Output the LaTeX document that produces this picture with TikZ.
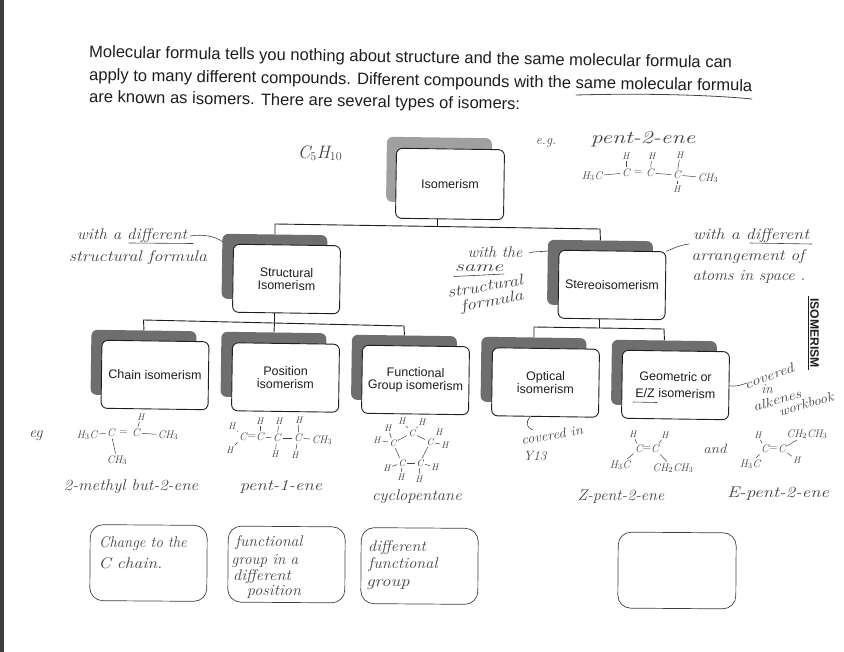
\documentclass[tikz,border=0pt]{standalone}
\usepackage{fontspec}
\newfontfamily\arialf{Liberation Sans}
\definecolor{ink}{HTML}{1E1E1E}
\definecolor{pen}{HTML}{444444}
\definecolor{shade}{HTML}{6E6E6E}
\definecolor{shadelt}{HTML}{A0A0A0}
\tikzset{
 box/.style={draw=ink,line width=0.9pt,rounded corners=6pt,fill=white,rotate=-0.8,minimum width=107pt,minimum height=68pt,inner sep=0pt,align=center,text=ink,font=\arialf\fontsize{12.5}{12.8}\selectfont},
 shadowbox/.style={fill=shade,rounded corners=6pt,rotate=-0.8,minimum width=105pt,minimum height=65pt,inner sep=0pt},
 handbox/.style={draw=ink!85,line width=0.7pt,rounded corners=13pt,minimum width=117pt,minimum height=76pt,inner sep=0pt,rotate=-0.4},
 bus/.style={draw=ink,line width=0.9pt},
 headline/.style={anchor=west,inner sep=0pt,rotate=-0.95,text=ink,font=\arialf\fontsize{16.55}{17}\selectfont},
 hand/.style={inner sep=0pt,text=pen,font=\itshape\fontsize{15.5}{16}\selectfont},
 handsm/.style={inner sep=0pt,text=pen,font=\itshape\fontsize{13.5}{14}\selectfont},
 atomn/.style={inner sep=1pt,text=pen,font=\itshape\fontsize{11}{12}\selectfont},
 atoms/.style={inner sep=1pt,text=pen,font=\itshape\fontsize{9.5}{10}\selectfont},
 eqs/.style={inner sep=0pt,text=pen,font=\fontsize{11}{12}\selectfont},
 bond/.style={draw=pen,line width=0.5pt,shorten >=0.5pt,shorten <=0.5pt},
 penline/.style={draw=pen,line width=0.6pt,line cap=round},
}
\begin{document}
\begin{tikzpicture}[x=1pt,y=-1pt]
\useasboundingbox (0,0) rectangle (844,652);
\fill[white] (0,0) rectangle (844,652);
\fill[ink!85] (0,0) rectangle (4,652);

% header
\node[headline] (h1) at (89,53) {Molecular formula tells you nothing about structure and the same molecular formula can};
\node[headline] (h2) at (89,76) {apply to many different compounds. Different compounds with the same molecular formula};
\node[headline] (h3) at (89,98) {are known as isomers. There are several types of isomers:};
\coordinate (ulA) at (576,95); \coordinate (ulB) at (752,99);
\draw[penline,line width=0.8pt] (ulA) .. controls (630,93.5) and (700,94) .. (ulB);

% shadows
\node[shadowbox,fill=shadelt] (isoS) at (439,170) {};
\node[shadowbox] (strS) at (274.5,267) {};
\node[shadowbox] (steS) at (600,273) {};
\node[shadowbox] (chaS) at (143.5,363) {};
\node[shadowbox] (posS) at (273.5,365) {};
\node[shadowbox] (funS) at (404,368) {};
\node[shadowbox] (optS) at (533.5,370) {};
\node[shadowbox] (geoS) at (664,373) {};

% connector junctions
\coordinate (busA) at (437,226.5);
\coordinate (busAL) at (275,224);
\coordinate (busAR) at (600,229);
\coordinate (busB) at (274.5,323);
\coordinate (busBL) at (143.5,320);
\coordinate (busBR) at (404,326);
\coordinate (busC) at (599,328);
\coordinate (busCL) at (534,327);
\coordinate (busCR) at (664,329);

\draw[bus] (strS.north) -- (busAL) -- (busAR) -- (steS.north);
\draw[bus] (chaS.north) -- (busBL) -- (busBR) -- (funS.north);
\draw[bus] (optS.north) -- (busCL) -- (busCR) -- (geoS.north);
\draw[bus] (posS.north) -- (busB);
\draw[bus] (busA) -- (isoS.south -| busA) ;
\draw[bus] (busB) -- (strS.south -| busB);
\draw[bus] (busC) -- (steS.south -| busC);

% boxes
\node[box,minimum width=108pt,minimum height=70pt] (iso) at (450,184) {Isomerism};
\node[box] (str) at (286.5,279) {Structural\\Isomerism};
\node[box] (ste) at (612,285) {Stereoisomerism};
\node[box] (cha) at (155,375) {Chain isomerism};
\node[box] (pos) at (285.5,377.5) {Position\\isomerism};
\node[box] (fun) at (415.5,380) {Functional\\Group isomerism};
\node[box] (opt) at (545.5,382.5) {Optical\\isomerism};
\node[box] (geo) at (675.5,385) {Geometric or\\[4pt]E/Z isomerism};

\coordinate (ezA) at (633,402); \coordinate (ezB) at (657,402.5);
\draw[penline] (ezA) -- (ezB);

\node[inner sep=0pt,rotate=-90,text=ink,font=\arialf\bfseries\fontsize{12.2}{13}\selectfont] (side) at (814.5,333) {ISOMERISM};
\coordinate (sdA) at (808.5,296); \coordinate (sdB) at (808.5,370);
\draw[ink,line width=0.8pt] (sdA) -- (sdB);

% annotations top
\node[hand,font=\itshape\fontsize{18}{18}\selectfont] (cf) at (320,153) {C$_5$H$_{10}$};
\node[handsm] (eg1) at (546,143) {e.g.};
\node[hand,font=\itshape\fontsize{18}{18}\selectfont,xscale=1.31] (p2e) at (643,139) {pent-2-ene};
\node[atomn] (a1) at (592,176) {H$_3$C};
\node[atomn] (a2) at (626,173) {C};
\node[eqs] (a2e) at (638,173) {=};
\node[atomn] (a3) at (650,173) {C};
\node[atomn] (a4) at (677,175) {C};
\node[atomn] (a5) at (708,178) {CH$_3$};
\node[atoms] (a6) at (626,156) {H};
\node[atoms] (a7) at (652,156) {H};
\node[atoms] (a8) at (680,155) {H};
\node[atoms] (a9) at (677,189) {H};
\draw[bond] (a1)--(a2); \draw[bond] (a3)--(a4); \draw[bond] (a4)--(a5);
\draw[bond] (a2)--(a6); \draw[bond] (a3)--(a7); \draw[bond] (a4)--(a8); \draw[bond] (a4)--(a9);

% left note
\node[hand,xscale=1.09] (wd1) at (132,236) {with a different};
\coordinate (wdA) at (129,243); \coordinate (wdB) at (193,243.5);
\draw[penline] (wdA) -- (wdB);
\node[hand,xscale=1.156] (wd2) at (138,258) {structural formula};
\coordinate (wdC) at (190,236); \coordinate (wdD) at (223,242);
\draw[penline] (wdC) .. controls (203,234) and (215,236) .. (wdD);

% centre note
\node[hand,xscale=1.04] (ws1) at (495,252) {with the};
\node[hand,xscale=1.45] (ws2) at (479,268) {same};
\coordinate (wsA) at (454,276.5); \coordinate (wsB) at (504,274);
\draw[penline] (wsA) -- (wsB);
\node[hand,rotate=10,xscale=1.21] (ws3) at (485,286) {structural};
\node[hand,rotate=10,xscale=1.24] (ws4) at (492,302) {formula};
\coordinate (wsC) at (529,253); \coordinate (wsD) at (548,251);
\draw[penline] (wsC) .. controls (535,251) and (541,252) .. (wsD);

% right note
\node[hand,xscale=1.15] (wr1) at (751,236) {with a different};
\coordinate (wrA) at (750,243); \coordinate (wrB) at (812,244);
\draw[penline] (wrA) -- (wrB);
\node[hand,xscale=1.12] (wr2) at (748,257) {arrangement of};
\node[hand,xscale=1.05] (wr3) at (749,277) {atoms in space .};
\coordinate (wrC) at (689,244);
\draw[penline] (ste.north east) .. controls (672,249) and (680,245) .. (wrC);

% workbook note
\node[handsm,rotate=20,xscale=1.24] (cv1) at (769,376) {covered};
\node[handsm] (cv2) at (767,389) {in};
\node[handsm,rotate=17,xscale=1.2] (cv3) at (777,400) {alkenes};
\node[handsm,rotate=17,xscale=1.1] (cv4) at (806,404) {workbook};
\coordinate (cvA) at (747,383);
\draw[penline] (geo.east) .. controls (736,387) and (741,385) .. (cvA);

% Y13
\node[handsm,rotate=10,xscale=1.08] (y1) at (552,435) {covered in};
\node[handsm] (y2) at (535,456) {Y13};
\coordinate (yA) at (533,430); \coordinate (yB) at (530,417);
\draw[penline] (yB) .. controls (525,423) and (527,428) .. (yA);

% chain
\node[hand] (eg2) at (36,436) {eg};
\node[atomn] (b1) at (87,435) {H$_3$C};
\node[atomn] (b2) at (111,433) {C};
\node[eqs] (b2e) at (123.5,433) {=};
\node[atomn] (b3) at (136,433) {C};
\node[atomn] (b4) at (168,435) {CH$_3$};
\node[atoms] (b5) at (141,417) {H};
\node[atomn] (b6) at (117,460) {CH$_3$};
\draw[bond] (b1)--(b2); \draw[bond] (b3)--(b4); \draw[bond] (b3)--(b5); \draw[bond] (b2)--(b6);
\node[hand,xscale=1.09] (n1) at (131,487) {2-methyl but-2-ene};

% pent-1-ene
\node[atoms] (c1) at (232,426) {H};
\node[atoms] (c2) at (230,450) {H};
\node[atomn] (c3) at (243,437) {C};
\node[eqs] (c3e) at (251.5,437) {=};
\node[atomn] (c4) at (260,437) {C};
\node[atomn] (c5) at (277,438) {C};
\node[atomn] (c6) at (298,438) {C};
\node[atomn] (c7) at (322,440) {CH$_3$};
\node[atoms] (c8) at (260,421) {H};
\node[atoms] (c9) at (279,421) {H};
\node[atoms] (c10) at (299,420) {H};
\node[atoms] (c11) at (275,454) {H};
\node[atoms] (c12) at (295,455) {H};
\draw[bond] (c1)--(c3); \draw[bond] (c2)--(c3); \draw[bond] (c4)--(c5); \draw[bond] (c5)--(c6); \draw[bond] (c6)--(c7);
\draw[bond] (c4)--(c8); \draw[bond] (c5)--(c9); \draw[bond] (c6)--(c10); \draw[bond] (c5)--(c11); \draw[bond] (c6)--(c12);
\node[hand,xscale=1.2] (n2) at (281,487) {pent-1-ene};

% cyclopentane
\node[atoms] (d1) at (393,443) {C};
\node[atoms] (d2) at (412,433) {C};
\node[atoms] (d3) at (430,442) {C};
\node[atoms] (d4) at (420,463) {C};
\node[atoms] (d5) at (402,463) {C};
\node[atoms] (d6) at (388,428) {H};
\node[atoms] (d7) at (402,421) {H};
\node[atoms] (d8) at (422,422) {H};
\node[atoms] (d9) at (439,432) {H};
\node[atoms] (d10) at (445,445) {H};
\node[atoms] (d11) at (377,440) {H};
\node[atoms] (d12) at (387,468) {H};
\node[atoms] (d13) at (435,467) {H};
\node[atoms] (d14) at (401,477) {H};
\node[atoms] (d15) at (419,479) {H};
\draw[bond] (d1)--(d2); \draw[bond] (d2)--(d3); \draw[bond] (d3)--(d4); \draw[bond] (d4)--(d5); \draw[bond] (d5)--(d1);
\draw[bond] (d1)--(d6); \draw[bond] (d2)--(d7); \draw[bond] (d2)--(d8); \draw[bond] (d3)--(d9); \draw[bond] (d3)--(d10);
\draw[bond] (d1)--(d11); \draw[bond] (d5)--(d12); \draw[bond] (d4)--(d13); \draw[bond] (d5)--(d14); \draw[bond] (d4)--(d15);
\node[hand,xscale=1.07] (n3) at (417,497) {cyclopentane};

% Z
\node[atoms] (e1) at (633,434) {H};
\node[atoms] (e2) at (665,435) {H};
\node[atomn] (e3) at (639,449) {C};
\node[eqs] (e3e) at (647,449) {=};
\node[atomn] (e4) at (655,449) {C};
\node[atomn] (e5) at (620,465) {H$_3$C};
\node[atomn] (e6) at (673,468) {CH$_2$CH$_3$};
\draw[bond] (e1)--(e3); \draw[bond] (e2)--(e4); \draw[bond] (e5)--(e3); \draw[bond] (e6)--(e4);
\node[hand,xscale=1.04] (n4) at (621,497) {Z-pent-2-ene};
\node[handsm,xscale=1.1] (and1) at (715,449) {and};

% E
\node[atoms] (f1) at (758,435) {H};
\node[atomn] (f2) at (765,449) {C};
\node[eqs] (f2e) at (773.5,449) {=};
\node[atomn] (f3) at (782,449) {C};
\node[atomn] (f4) at (807,434) {CH$_2$CH$_3$};
\node[atoms] (f5) at (797,460) {H};
\node[atomn] (f6) at (750,464) {H$_3$C};
\draw[bond] (f1)--(f2); \draw[bond] (f3)--(f4); \draw[bond] (f3)--(f5); \draw[bond] (f6)--(f2);
\node[hand,xscale=1.21] (n5) at (778,494) {E-pent-2-ene};

% bottom boxes
\node[handbox] (k1) at (148.5,563) {};
\node[handbox] (k2) at (286.5,564.5) {};
\node[handbox] (k3) at (419.5,566) {};
\node[handbox,minimum width=118pt] (k4) at (677,570.5) {};
\node[hand,xscale=0.95] (t1) at (143,544) {Change to the};
\node[hand,xscale=1.13] (t2) at (130.5,563) {C chain.};
\node[hand,xscale=1.02] (t3) at (269,543) {functional};
\node[hand,xscale=0.98] (t4) at (265,561) {group in a};
\node[hand,xscale=1.05] (t5) at (262,577) {different};
\node[hand,xscale=1.05] (t6) at (274,592) {position};
\node[hand,xscale=1.05] (t7) at (397,548) {different};
\node[hand,xscale=1.05] (t8) at (403,565) {functional};
\node[hand,xscale=1.2] (t9) at (388,585) {group};
\end{tikzpicture}
\end{document}
